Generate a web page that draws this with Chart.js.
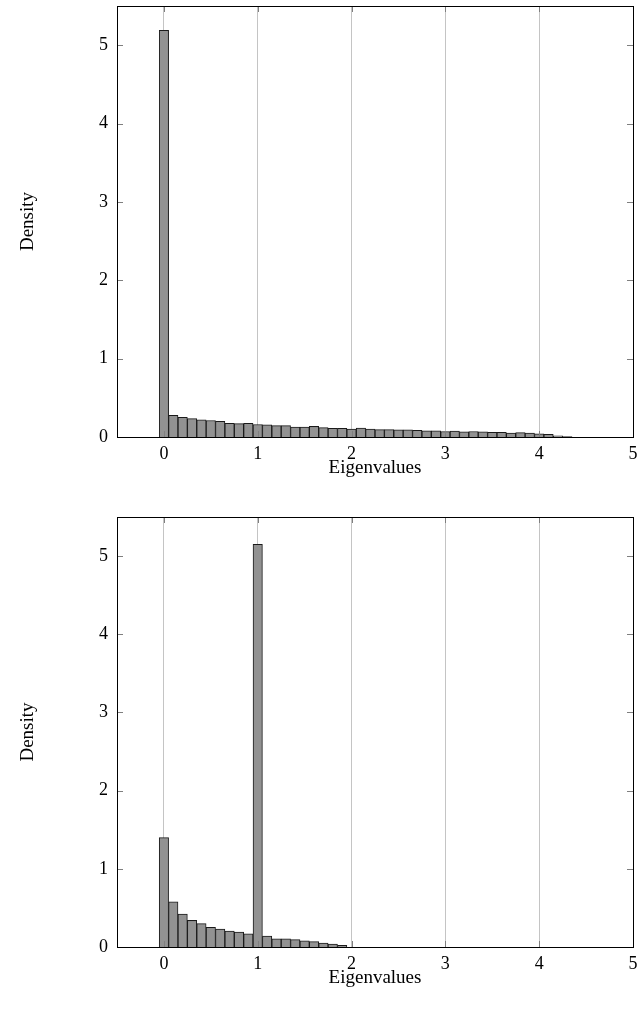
<!DOCTYPE html>
<html>
<head>
<meta charset="utf-8">
<script src="https://cdn.jsdelivr.net/npm/chart.js@4"></script>
<style>
  body { margin: 0; background: #fff; }
  canvas { display: block; }
</style>
</head>
<body>
<canvas id="top" width="642" height="500"></canvas>
<canvas id="bottom" width="642" height="521"></canvas>
<script>
// histogram bin centres (bin width 0.1)
const binCenters = [
  0.0, 0.1, 0.2, 0.3, 0.4, 0.5, 0.6, 0.7, 0.8, 0.9,
  1.0, 1.1, 1.2, 1.3, 1.4, 1.5, 1.6, 1.7, 1.8, 1.9,
  2.0, 2.1, 2.2, 2.3, 2.4, 2.5, 2.6, 2.7, 2.8, 2.9,
  3.0, 3.1, 3.2, 3.3, 3.4, 3.5, 3.6, 3.7, 3.8, 3.9,
  4.0, 4.1, 4.2, 4.3, 4.4, 4.5, 4.6, 4.7, 4.8, 4.9,
  5.0
];

const topDensity = [
  5.19, 0.277, 0.25, 0.235, 0.22, 0.21, 0.20, 0.175, 0.17, 0.175,
  0.16, 0.155, 0.145, 0.145, 0.125, 0.125, 0.135, 0.12, 0.11, 0.11,
  0.10, 0.115, 0.10, 0.095, 0.095, 0.09, 0.09, 0.085, 0.08, 0.08,
  0.07, 0.075, 0.065, 0.07, 0.065, 0.06, 0.06, 0.05, 0.055, 0.05,
  0.04, 0.035, 0.015, 0.005, 0, 0, 0, 0, 0, 0,
  0
];

const bottomDensity = [
  1.40, 0.577, 0.42, 0.34, 0.30, 0.25, 0.23, 0.205, 0.19, 0.167,
  5.15, 0.14, 0.106, 0.106, 0.094, 0.08, 0.068, 0.05, 0.038, 0.02,
  0, 0, 0, 0, 0, 0, 0, 0, 0, 0,
  0, 0, 0, 0, 0, 0, 0, 0, 0, 0,
  0, 0, 0, 0, 0, 0, 0, 0, 0, 0,
  0
];

const xTicks = [0, 1, 2, 3, 4, 5];
const yTicks = [0, 1, 2, 3, 4, 5];
const xLabel = 'Eigenvalues';
const yLabel = 'Density';

const FONT = '"Liberation Serif", "DejaVu Serif", serif';

// pgfplots style frame: inward ticks, black box and axis titles
const frame = {
  id: 'frame',
  afterDraw(chart) {
    const { ctx, chartArea: a, scales } = chart;
    ctx.save();
    ctx.lineWidth = 1;
    ctx.strokeStyle = '#7f7f7f';
    ctx.beginPath();
    for (const v of yTicks) {
      const py = Math.round(scales.y.getPixelForValue(v)) + 0.5;
      ctx.moveTo(a.left, py); ctx.lineTo(a.left + 6, py);
      ctx.moveTo(a.right, py); ctx.lineTo(a.right - 6, py);
    }
    for (const v of xTicks) {
      const px = Math.round(scales.x.getPixelForValue(v)) + 0.5;
      ctx.moveTo(px, a.top); ctx.lineTo(px, a.top + 6);
      ctx.moveTo(px, a.bottom); ctx.lineTo(px, a.bottom - 6);
    }
    ctx.stroke();

    ctx.strokeStyle = '#000';
    ctx.strokeRect(Math.round(a.left) + 0.5, Math.round(a.top) + 0.5,
      Math.round(a.right - a.left), Math.round(a.bottom - a.top));

    ctx.fillStyle = '#000';
    ctx.font = '19px ' + FONT;
    ctx.textAlign = 'center';
    ctx.textBaseline = 'middle';
    ctx.fillText(xLabel, (a.left + a.right) / 2, a.bottom + 31);
    ctx.translate(28, (a.top + a.bottom) / 2);
    ctx.rotate(-Math.PI / 2);
    ctx.fillText(yLabel, 0, 0);
    ctx.restore();
  }
};

function makeChart(id, values, padTop, xAxisHeight) {
  return new Chart(document.getElementById(id), {
    type: 'bar',
    data: {
      datasets: [{
        data: binCenters.map((x, i) => ({ x: x, y: values[i] })),
        backgroundColor: '#929292',
        borderColor: '#1a1a1a',
        borderWidth: 1,
        barPercentage: 1,
        categoryPercentage: 1
      }]
    },
    options: {
      responsive: false,
      animation: false,
      layout: { padding: { top: padTop, right: 9, left: 0, bottom: 0 } },
      plugins: { legend: { display: false }, tooltip: { enabled: false } },
      scales: {
        x: {
          type: 'linear',
          min: -0.5,
          max: 5,
          offset: false,
          afterBuildTicks: s => { s.ticks = xTicks.map(v => ({ value: v })); },
          afterFit: s => { s.height = xAxisHeight; s.paddingLeft = 0; s.paddingRight = 0; },
          grid: { color: '#c4c4c4', drawTicks: false, offset: false },
          border: { display: false },
          ticks: { padding: 6, color: '#000', font: { family: FONT, size: 18 }, maxRotation: 0 }
        },
        y: {
          min: 0,
          max: 5.5,
          afterBuildTicks: s => { s.ticks = yTicks.map(v => ({ value: v })); },
          afterFit: s => { s.width = 117; s.paddingTop = 0; s.paddingBottom = 0; },
          grid: { display: false, drawTicks: false },
          border: { display: false },
          ticks: { padding: 9, color: '#000', font: { family: FONT, size: 18 } }
        }
      }
    },
    plugins: [frame]
  });
}

makeChart('top', topDensity, 6, 63);
makeChart('bottom', bottomDensity, 17, 74);
</script>
</body>
</html>
